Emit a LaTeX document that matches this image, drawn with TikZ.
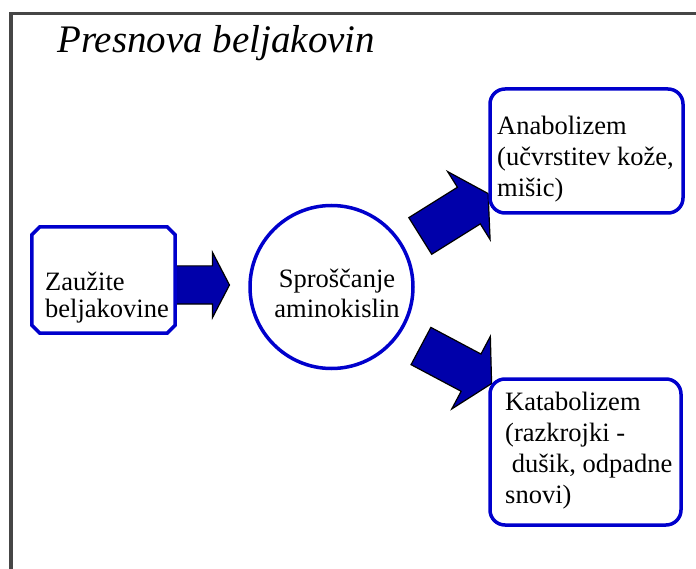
\documentclass[tikz,border=0pt]{standalone}
\usepackage{fontspec}
\setmainfont{Liberation Serif}
\usetikzlibrary{shapes.arrows,positioning}
\definecolor{pbblue}{RGB}{0,0,204}
\definecolor{pbnavy}{RGB}{0,0,170}
\definecolor{pbframe}{RGB}{70,70,70}
\tikzstyle{boxline} = [draw=pbblue, line width=3.5pt]
\tikzstyle{roundbox} = [boxline, fill=white, rounded corners=15pt, inner sep=0pt]
\tikzstyle{blockarr} = [single arrow, draw=black, line width=1.2pt, fill=pbnavy, inner xsep=0pt]
\tikzstyle{txt} = [align=left, inner sep=0pt, anchor=base west, font=\fontsize{26.5}{31}\selectfont]

\begin{document}
\begin{tikzpicture}[x=1pt,y=-1pt]
\useasboundingbox (0,0) rectangle (696,569);
% Frame
\draw[pbframe, line width=3.5pt] (11,569) -- (11,13.3) -- (696,13.3);

% Title
\node[anchor=base west, inner sep=0pt, font=\fontsize{39}{45}\selectfont\itshape] (title) at (57,53) {Presnova beljakovin};

% Block arrows (under the boxes)
\node[blockarr, inner ysep=18.5pt, minimum height=57pt, single arrow head extend=13.5pt, single arrow tip angle=125] (arr1) at (196,285) {};
\node[blockarr, rotate=32, inner ysep=21pt, minimum height=80pt, single arrow head extend=18.5pt, single arrow tip angle=121] (arr2) at (449,218) {};
\node[blockarr, rotate=-28, inner ysep=20.5pt, minimum height=80pt, single arrow head extend=20pt, single arrow tip angle=121] (arr3) at (451,362) {};

% Boxes
\node[fill=white, inner sep=0pt, minimum width=143pt, minimum height=106pt] (zau) at (103.5,280) {};
\draw[boxline] ([xshift=8pt]zau.north west) -- ([xshift=-8pt]zau.north east)
  -- ([yshift=-8pt]zau.north east) -- ([yshift=8pt]zau.south east)
  -- ([xshift=-8pt]zau.south east) -- ([xshift=8pt]zau.south west)
  -- ([yshift=8pt]zau.south west) -- ([yshift=-8pt]zau.north west) -- cycle;
\node[circle, boxline, fill=white, inner sep=0pt, minimum size=163pt] (spr) at (331.5,287) {};
\node[roundbox, minimum width=193pt, minimum height=124pt] (ana) at (586.5,151) {};
\node[roundbox, minimum width=191pt, minimum height=146pt] (kat) at (585.5,452) {};

% Texts (base = last line)
\node[txt, font=\fontsize{26.5}{27}\selectfont] (zautxt) at (45,317) {Zaužite\\beljakovine};
\node[txt, align=center, anchor=base] (sprtxt) at (337,318) {Sproščanje\\aminokislin};
\node[txt] (anatxt) at (497,197) {Anabolizem\\(učvrstitev kože,\\mišic)};
\node[txt] (kattxt) at (505,503) {Katabolizem\\(razkrojki -\\\ dušik, odpadne\\snovi)};
\end{tikzpicture}
\end{document}
